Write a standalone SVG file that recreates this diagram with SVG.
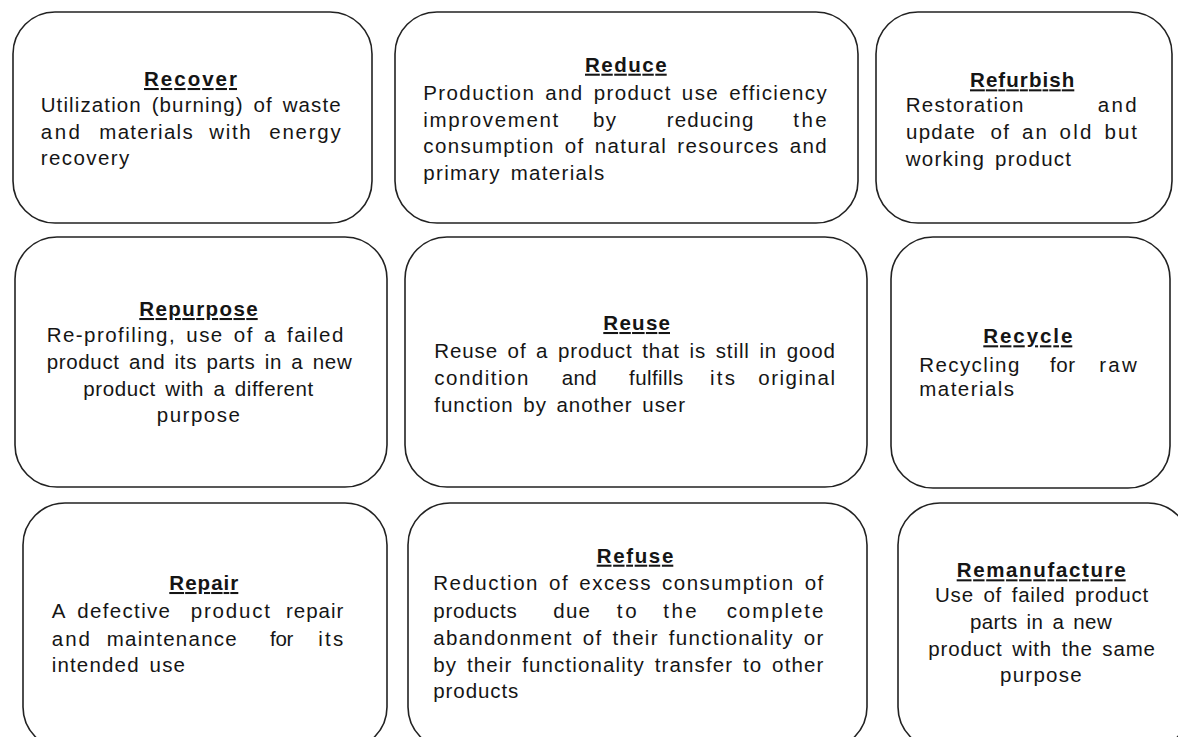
<svg xmlns="http://www.w3.org/2000/svg" width="1178" height="737" viewBox="0 0 1178 737">
<style>
.box{fill:#fff;stroke:#222;stroke-width:1.6}
text{font-family:"Liberation Sans",Arial,sans-serif;font-size:20.5px;fill:#151515;word-spacing:3px}
.t{font-weight:bold;text-decoration:underline;word-spacing:0}
</style>
<rect width="1178" height="737" fill="#fff"/>
<g id="connectors"></g>
<g id="recover">
<rect class="box" x="13" y="12" width="359" height="211" rx="42"/>
<text class="t" x="144" y="86" textLength="93" lengthAdjust="spacing">Recover</text>
<text x="40.7" y="112" textLength="300" lengthAdjust="spacing">Utilization (burning) of waste</text>
<text y="138.5"><tspan x="40.7" textLength="39.3" lengthAdjust="spacing">and</tspan><tspan x="99.3" textLength="93.4" lengthAdjust="spacing">materials</tspan><tspan x="209.3" textLength="41.4" lengthAdjust="spacing">with</tspan><tspan x="269.3" textLength="71.4" lengthAdjust="spacing">energy</tspan></text>
<text x="40.7" y="165" textLength="88.6" lengthAdjust="spacing">recovery</text>
</g>
<g id="reduce">
<rect class="box" x="395" y="12" width="463" height="211" rx="42"/>
<text class="t" x="585" y="71.7" textLength="81.7" lengthAdjust="spacing">Reduce</text>
<text x="423.3" y="100" textLength="403.4" lengthAdjust="spacing">Production and product use efficiency</text>
<text y="126.7"><tspan x="423.3" textLength="135" lengthAdjust="spacing">improvement</tspan><tspan x="593" textLength="23" lengthAdjust="spacing">by</tspan><tspan x="666.7" textLength="86.6" lengthAdjust="spacing">reducing</tspan><tspan x="793.3" textLength="33.4" lengthAdjust="spacing">the</tspan></text>
<text x="423.3" y="153.3" textLength="403.4" lengthAdjust="spacing">consumption of natural resources and</text>
<text x="423.3" y="180" textLength="181" lengthAdjust="spacing">primary materials</text>
</g>
<g id="refurbish">
<rect class="box" x="876" y="12" width="296" height="211" rx="42"/>
<text class="t" x="970" y="87.3" textLength="104.3" lengthAdjust="spacing">Refurbish</text>
<text y="112.3"><tspan x="905.7" textLength="117.6" lengthAdjust="spacing">Restoration</tspan><tspan x="1097.7" textLength="39" lengthAdjust="spacing">and</tspan></text>
<text y="139.3"><tspan x="906" textLength="69" lengthAdjust="spacing">update</tspan><tspan x="990.5" textLength="18.5" lengthAdjust="spacing">of</tspan><tspan x="1022" textLength="25" lengthAdjust="spacing">an</tspan><tspan x="1059.5" textLength="32" lengthAdjust="spacing">old</tspan><tspan x="1104.5" textLength="32.5" lengthAdjust="spacing">but</tspan></text>
<text x="905.7" y="165.7" textLength="165.3" lengthAdjust="spacing">working product</text>
</g>
<g id="repurpose">
<rect class="box" x="15" y="237" width="372" height="250" rx="42"/>
<text class="t" x="139.3" y="316" textLength="118.4" lengthAdjust="spacing">Repurpose</text>
<text x="46.7" y="341.7" textLength="296.6" lengthAdjust="spacing">Re-profiling, use of a failed</text>
<text x="46.7" y="369" textLength="305" lengthAdjust="spacing">product and its parts in a new</text>
<text x="83.3" y="395.7" textLength="230" lengthAdjust="spacing">product with a different</text>
<text x="156.7" y="422.3" textLength="83.3" lengthAdjust="spacing">purpose</text>
</g>
<g id="reuse">
<rect class="box" x="405" y="237" width="462" height="250" rx="42"/>
<text class="t" x="603.3" y="330" textLength="66.7" lengthAdjust="spacing">Reuse</text>
<text x="434.3" y="358.3" textLength="400.7" lengthAdjust="spacing">Reuse of a product that is still in good</text>
<text y="385"><tspan x="434.3" textLength="94" lengthAdjust="spacing">condition</tspan><tspan x="561.7" textLength="35" lengthAdjust="spacing">and</tspan><tspan x="629" textLength="54.3" lengthAdjust="spacing">fulfills</tspan><tspan x="710" textLength="25" lengthAdjust="spacing">its</tspan><tspan x="758.3" textLength="76.7" lengthAdjust="spacing">original</tspan></text>
<text x="434.3" y="411.7" textLength="250.7" lengthAdjust="spacing">function by another user</text>
</g>
<g id="recycle">
<rect class="box" x="891" y="237" width="279" height="251" rx="42"/>
<text class="t" x="983.3" y="343.3" textLength="89" lengthAdjust="spacing">Recycle</text>
<text y="371.7"><tspan x="919.3" textLength="100" lengthAdjust="spacing">Recycling</tspan><tspan x="1050" textLength="25" lengthAdjust="spacing">for</tspan><tspan x="1099.3" textLength="37.4" lengthAdjust="spacing">raw</tspan></text>
<text x="919.3" y="396" textLength="94.7" lengthAdjust="spacing">materials</text>
</g>
<g id="repair">
<rect class="box" x="23" y="503" width="364" height="246" rx="42"/>
<text class="t" x="169.3" y="590" textLength="69" lengthAdjust="spacing">Repair</text>
<text y="618.3"><tspan x="51.7" textLength="13.3" lengthAdjust="spacing">A</tspan><tspan x="77.3" textLength="92.7" lengthAdjust="spacing">defective</tspan><tspan x="190.7" textLength="79.3" lengthAdjust="spacing">product</tspan><tspan x="286" textLength="57.3" lengthAdjust="spacing">repair</tspan></text>
<text y="646"><tspan x="51.7" textLength="38.3" lengthAdjust="spacing">and</tspan><tspan x="106.7" textLength="130" lengthAdjust="spacing">maintenance</tspan><tspan x="270" textLength="23.3" lengthAdjust="spacing">for</tspan><tspan x="318.3" textLength="25" lengthAdjust="spacing">its</tspan></text>
<text x="51.7" y="671.7" textLength="133.3" lengthAdjust="spacing">intended use</text>
</g>
<g id="refuse">
<rect class="box" x="408" y="503" width="459" height="246" rx="42"/>
<text class="t" x="596.7" y="562.7" textLength="76.6" lengthAdjust="spacing">Refuse</text>
<text x="433.3" y="590" textLength="390" lengthAdjust="spacing">Reduction of excess consumption of</text>
<text y="618.3"><tspan x="433.3" textLength="83.4" lengthAdjust="spacing">products</tspan><tspan x="553.3" textLength="36.7" lengthAdjust="spacing">due</tspan><tspan x="616.7" textLength="20" lengthAdjust="spacing">to</tspan><tspan x="663.3" textLength="33.4" lengthAdjust="spacing">the</tspan><tspan x="726.7" textLength="96.6" lengthAdjust="spacing">complete</tspan></text>
<text x="433.3" y="645" textLength="390" lengthAdjust="spacing">abandonment of their functionality or</text>
<text x="433.3" y="671.7" textLength="390" lengthAdjust="spacing">by their functionality transfer to other</text>
<text x="433.3" y="698.3" textLength="85" lengthAdjust="spacing">products</text>
</g>
<g id="remanufacture">
<rect class="box" x="898" y="503" width="292" height="246" rx="42"/>
<text class="t" x="956.7" y="577.3" textLength="169" lengthAdjust="spacing">Remanufacture</text>
<text x="935" y="601.7" textLength="213.3" lengthAdjust="spacing">Use of failed product</text>
<text x="970" y="628.5" textLength="141.7" lengthAdjust="spacing">parts in a new</text>
<text x="928.3" y="655.7" textLength="226.7" lengthAdjust="spacing">product with the same</text>
<text x="1000" y="682.3" textLength="81.7" lengthAdjust="spacing">purpose</text>
</g>
</svg>
